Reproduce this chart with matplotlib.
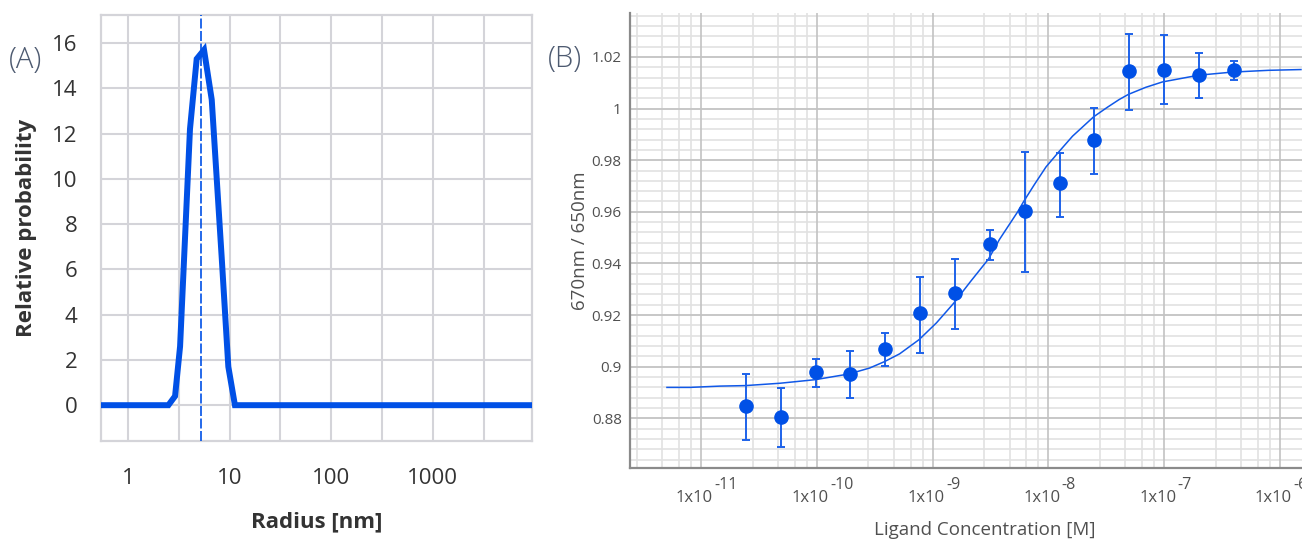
import numpy as np
import matplotlib
matplotlib.use("Agg")
import matplotlib.pyplot as plt
from matplotlib.ticker import FixedLocator, NullLocator
import matplotlib.transforms as mtrans

plt.rcParams['font.family'] = ['Open Sans', 'DejaVu Sans']

# ---------------- Panel A data ----------------
radius_nm = [0.54, 2.50, 2.91, 3.26, 4.08, 4.75, 5.61, 6.68, 8.38, 9.73, 11.3, 9500.0]
rel_prob = [0.0, 0.0, 0.4, 2.6, 12.2, 15.3, 15.7, 13.5, 6.5, 1.7, 0.0, 0.0]
peak_radius = 5.24
a_xticks = [1, 10, 100, 1000]
a_xticklabels = ["1", "10", "100", "1000"]
a_yticks = [0, 2, 4, 6, 8, 10, 12, 14, 16]

# ---------------- Panel B data ----------------
conc_M = [2.441e-11, 4.883e-11, 9.766e-11, 1.953e-10, 3.906e-10, 7.813e-10,
          1.5625e-9, 3.125e-9, 6.25e-9, 1.25e-8, 2.5e-8, 5e-8, 1e-7, 2e-7, 4e-7]
ratio = [0.8848, 0.8806, 0.8980, 0.8972, 0.9068, 0.9210, 0.9284, 0.9477,
         0.9603, 0.9710, 0.9880, 1.0144, 1.0149, 1.0128, 1.0148]
err_hi = [0.8972, 0.8918, 0.9029, 0.9062, 0.9129, 0.9348, 0.9417, 0.9529,
          0.9832, 0.9829, 1.0004, 1.0288, 1.0284, 1.0216, 1.0185]
err_lo = [0.8716, 0.8690, 0.8920, 0.8880, 0.9004, 0.9055, 0.9148, 0.9413,
          0.9368, 0.9581, 0.9748, 0.9996, 1.0019, 1.0039, 1.0109]
fit_log_conc = [-11.293, -11.095, -10.836, -10.615, -10.319, -10.011, -9.722, -9.543,
                -9.414, -9.284, -9.116, -8.966, -8.819, -8.672, -8.517, -8.422,
                -8.265, -8.213, -8.12, -8.020, -7.914, -7.791, -7.609, -7.49,
                -7.388, -7.308, -7.16, -7.015, -6.704, -6.416, -6.1, -5.819]
fit_ratio = [0.8920, 0.8920, 0.8925, 0.8927, 0.8936, 0.8950, 0.8972, 0.8995,
             0.9020, 0.9050, 0.9105, 0.9170, 0.9245, 0.9330, 0.9417, 0.9493,
             0.9600, 0.9640, 0.9706, 0.9774, 0.9830, 0.9893, 0.9968, 1.0005,
             1.0035, 1.0055, 1.0082, 1.0103, 1.0129, 1.0141, 1.0148, 1.0151]
b_yticks = [0.88, 0.9, 0.92, 0.94, 0.96, 0.98, 1.0, 1.02]
b_yticklabels = ["0.88", "0.9", "0.92", "0.94", "0.96", "0.98", "1", "1.02"]
b_xexponents = [-11, -10, -9, -8, -7, -6]

BLUE = "#0050e6"
W, H = 1302, 541
fig = plt.figure(figsize=(W / 100, H / 100), dpi=100)

# ================= Panel A =================
axA = fig.add_axes([101 / W, 1 - 441.4 / H, 431 / W, 426.6 / H])
axA.set_xscale('log')
axA.set_xlim(0.543, 9490)
axA.set_ylim(-1.6, 17.25)
grid_c = "#d4d4d9"
axA.xaxis.set_major_locator(FixedLocator(a_xticks))
axA.set_xticklabels(a_xticklabels)
axA.xaxis.set_minor_locator(NullLocator())
axA.set_yticks(a_yticks)
for v in [1, 10 ** 0.5, 10, 10 ** 1.5, 100, 10 ** 2.5, 1000, 10 ** 3.5]:
    axA.axvline(v, color=grid_c, lw=1.5, zorder=0)
for v in a_yticks:
    axA.axhline(v, color=grid_c, lw=1.5, zorder=0)
for s in axA.spines.values():
    s.set_color(grid_c)
    s.set_linewidth(1.6)
axA.tick_params(length=0, labelsize=16, colors="#333333")
axA.tick_params(axis='y', pad=17)
axA.tick_params(axis='x', pad=19)
axA.plot(radius_nm, rel_prob, color=BLUE, lw=4.3, solid_joinstyle='miter', zorder=3)
axA.axvline(peak_radius, color=BLUE, lw=1.2, ls=(0, (6, 1.5)), zorder=4)
axA.set_ylabel("Relative probability", fontsize=16, fontweight='bold', color="#333333", labelpad=11)
axA.set_xlabel("Radius [nm]", fontsize=16, fontweight='bold', color="#333333", labelpad=16)
fig.text(9 / W, 1 - 60 / H, "(A)", fontsize=21, fontweight='light', color="#4d5a70",
         ha='left', va='center')

# ================= Panel B =================
axB = fig.add_axes([630 / W, 1 - 467.7 / H, 672 / W, 454.7 / H])
axB.set_xscale('log')
axB.set_xlim(10 ** -11.612, 10 ** -5.81)
axB.set_ylim(0.8609, 1.037)
major_c = "#c2c2c2"
minor_c = "#e2e2e2"
offs = [0.446, 0.665, 0.81, 0.914]
for d in range(-13, -5):
    for o in offs:
        axB.axvline(10 ** (d + o), color=minor_c, lw=1.2, zorder=0)
for d in range(-11, -5):
    axB.axvline(10.0 ** d, color=major_c, lw=1.2, zorder=0.5)
for v in np.arange(0.860, 1.0381, 0.004):
    axB.axhline(v, color=minor_c, lw=1.2, zorder=0)
for v in b_yticks:
    axB.axhline(v, color=major_c, lw=1.2, zorder=0.5)
for k in ['top', 'right']:
    axB.spines[k].set_visible(False)
for k in ['left', 'bottom']:
    axB.spines[k].set_color("#8a8a8a")
    axB.spines[k].set_linewidth(1.6)
axB.set_yticks(b_yticks)
axB.set_yticklabels(b_yticklabels)
axB.xaxis.set_major_locator(NullLocator())
axB.xaxis.set_minor_locator(NullLocator())
axB.tick_params(length=0, labelsize=11, colors="#505050", pad=6)

trans = mtrans.blended_transform_factory(axB.transData, axB.transAxes)
for e in b_xexponents:
    tb = mtrans.offset_copy(trans, fig=fig, x=12, y=0, units='dots')
    axB.text(10.0 ** e, -0.076, "1x10", transform=tb, ha='right', va='baseline',
             fontsize=12, color="#505050", clip_on=False)
    te = mtrans.offset_copy(trans, fig=fig, x=13.5, y=13, units='dots')
    axB.text(10.0 ** e, -0.076, str(e), transform=te, ha='left', va='baseline',
             fontsize=11.5, color="#505050", clip_on=False)

axB.plot(10 ** np.array(fit_log_conc), fit_ratio, color="#1058e8", lw=1.1, zorder=3)
r = np.array(ratio)
yerr = np.vstack([r - np.array(err_lo), np.array(err_hi) - r])
axB.errorbar(conc_M, ratio, yerr=yerr, fmt='o', color=BLUE, ecolor="#1d62ea",
             elinewidth=1.4, capsize=3.2, capthick=1.4, markersize=9.5, zorder=4)

axB.set_ylabel("670nm / 650nm", fontsize=13.5, color="#505050", labelpad=2)
axB.text((985 - 630) / 672, -(530 - 467.7) / 454.7, "Ligand Concentration [M]",
         transform=axB.transAxes, ha='center', va='center', fontsize=13.5,
         color="#505050", clip_on=False)
fig.text(548 / W, 1 - 59 / H, "(B)", fontsize=21, fontweight='light', color="#4d5a70",
         ha='left', va='center')

fig.savefig("out.png", dpi=100)
